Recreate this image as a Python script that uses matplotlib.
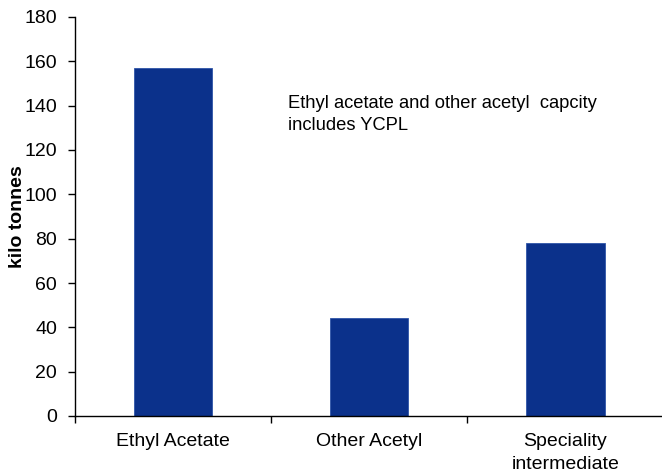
import matplotlib
matplotlib.use("Agg")
import matplotlib.pyplot as plt
from matplotlib.ticker import FixedLocator

plt.rcParams['font.family'] = ['Liberation Sans', 'DejaVu Sans']

categories = ["Ethyl Acetate", "Other Acetyl", "Speciality\nintermediate"]
capacity_kt = [157, 44, 78]
y_ticks = [0, 20, 40, 60, 80, 100, 120, 140, 160, 180]
note = "Ethyl acetate and other acetyl  capcity\nincludes YCPL"

fig = plt.figure(figsize=(6.62, 4.74), dpi=100)
ax = fig.add_axes([75 / 662, (474 - 416) / 474, (663.5 - 75) / 662, (416 - 17) / 474])

x = list(range(len(categories)))
ax.bar(x, capacity_kt, width=0.4, color="#0b318b", edgecolor="#2f55a8", linewidth=0.6)

ax.set_xlim(-0.5, len(categories) - 0.5)
ax.set_ylim(0, 180)
ax.set_yticks(y_ticks)

# category labels centred on bars, tick marks between categories
ax.set_xticks(x)
ax.set_xticklabels(categories, fontsize=14, linespacing=1.45)
ax.xaxis.set_minor_locator(FixedLocator([i - 0.5 for i in range(len(categories) + 1)]))
ax.tick_params(axis='x', which='major', length=0, pad=12)
ax.tick_params(axis='x', which='minor', length=5, width=1, direction='out')
ax.tick_params(axis='y', length=5, width=1, direction='out', pad=8, labelsize=14)

for side in ('top', 'right'):
    ax.spines[side].set_visible(False)
for side in ('left', 'bottom'):
    ax.spines[side].set_linewidth(1)
    ax.spines[side].set_color('black')

ax.set_ylabel("kilo tonnes", fontsize=14, fontweight='bold')
ax.yaxis.set_label_coords(-0.083, 0.5)

# anchored on the baseline of the last line
ax.text(0.362, 0.717, note, transform=ax.transAxes, fontsize=13.2,
        ha='left', va='baseline', linespacing=1.35)

fig.savefig("out.png", dpi=100)
